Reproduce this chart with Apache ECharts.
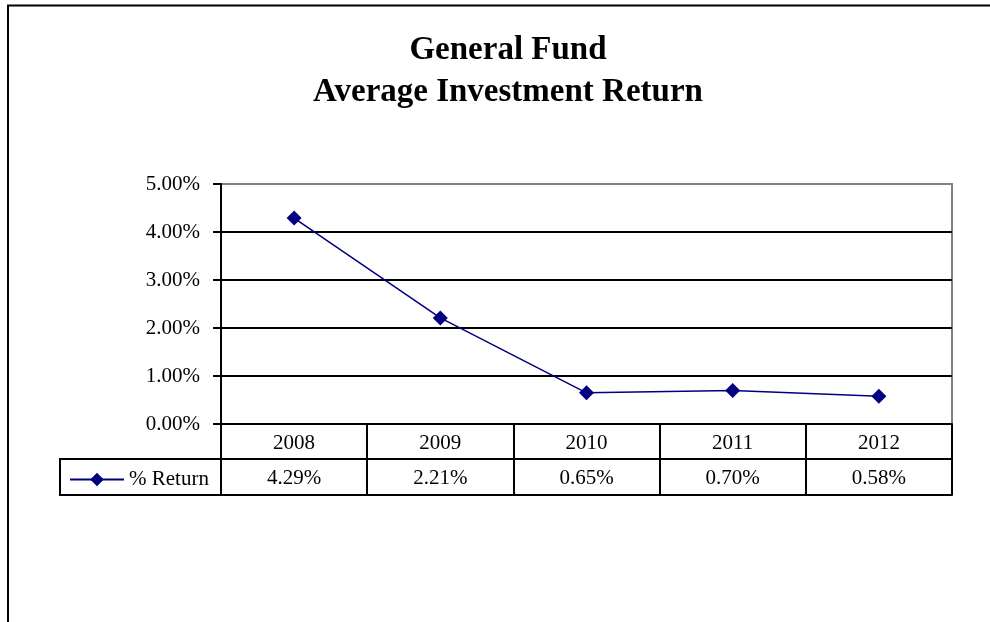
<!DOCTYPE html>
<html>
<head>
<meta charset="utf-8">
<script src="https://cdn.jsdelivr.net/npm/echarts@6/dist/echarts.min.js"></script>
<style>
  html, body { margin: 0; padding: 0; background: #ffffff; }
  #chart { width: 990px; height: 622px; }
</style>
</head>
<body>
<div id="chart"></div>
<script>
// Chart data
const years = ['2008', '2009', '2010', '2011', '2012'];
const returns = [4.29, 2.21, 0.65, 0.70, 0.58];
const seriesName = '% Return';
const titleText = 'General Fund\nAverage Investment Return';
const yMin = 0, yMax = 5, yStep = 1;

const FONT = '"Liberation Serif", "DejaVu Serif", serif';
const NAVY = '#000080';
const pct = v => v.toFixed(2) + '%';

const chart = echarts.init(document.getElementById('chart'));

chart.setOption({
  animation: false,
  backgroundColor: '#ffffff',
  title: {
    text: titleText,
    left: 503,
    top: 24,
    textAlign: 'center',
    textStyle: { fontFamily: FONT, fontSize: 33, fontWeight: 'bold', color: '#000', lineHeight: 42 }
  },
  legend: {
    data: [seriesName],
    left: 64,
    top: 464,
    itemWidth: 54,
    itemHeight: 17,
    itemGap: 6,
    textStyle: { fontFamily: FONT, fontSize: 21, color: '#000' }
  },
  grid: {
    left: 221, right: 38, top: 184, bottom: 198,
    show: true, borderColor: '#808080', borderWidth: 2, backgroundColor: 'transparent'
  },
  xAxis: [
    {
      // year row of the data table
      type: 'category',
      data: years,
      boundaryGap: true,
      axisLine: { lineStyle: { color: '#000', width: 2 } },
      axisTick: { show: true, interval: 0, length: 71, lineStyle: { color: '#000', width: 2 } },
      axisLabel: { margin: 9, fontFamily: FONT, fontSize: 21, color: '#000' }
    },
    {
      // value row of the data table
      type: 'category',
      data: returns.map(pct),
      position: 'bottom',
      offset: 35,
      axisLine: { lineStyle: { color: '#000', width: 2 } },
      axisTick: { show: false },
      axisLabel: { margin: 9, fontFamily: FONT, fontSize: 21, color: '#000' }
    },
    {
      // bottom edge of the data table
      type: 'category',
      data: years,
      position: 'bottom',
      offset: 71,
      axisLine: { lineStyle: { color: '#000', width: 2 } },
      axisTick: { show: false },
      axisLabel: { show: false }
    }
  ],
  yAxis: {
    type: 'value',
    min: yMin, max: yMax, interval: yStep,
    axisLine: { show: true, lineStyle: { color: '#000', width: 2 } },
    axisTick: { show: true, length: 8, lineStyle: { color: '#000', width: 2 } },
    axisLabel: { margin: 21, formatter: v => pct(v), fontFamily: FONT, fontSize: 21, color: '#000' },
    splitLine: { show: true, showMaxLine: false, lineStyle: { color: '#000', width: 2 } }
  },
  series: [{
    name: seriesName,
    type: 'line',
    xAxisIndex: 0,
    data: returns,
    symbol: 'diamond',
    symbolSize: 15,
    lineStyle: { color: NAVY, width: 1.5 },
    itemStyle: { color: NAVY }
  }],
  graphic: [
    {
      // outer frame (left and top edges)
      type: 'polyline',
      shape: { points: [[8, 622], [8, 5.5], [990, 5.5]] },
      style: { stroke: '#000', lineWidth: 2, fill: null },
      silent: true
    },
    {
      // legend cell of the data table
      type: 'rect',
      shape: { x: 60, y: 459, width: 161, height: 36 },
      style: { stroke: '#000', lineWidth: 2, fill: null },
      silent: true,
      z: -1
    }
  ]
});
</script>
</body>
</html>
